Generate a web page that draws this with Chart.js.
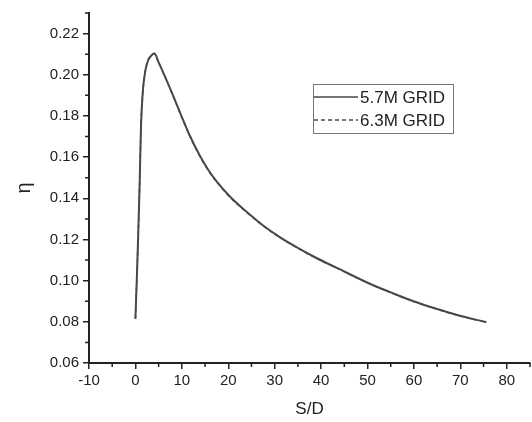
<!DOCTYPE html>
<html>
<head>
<meta charset="utf-8">
<script src="https://cdn.jsdelivr.net/npm/chart.js@4"></script>
<style>
  html, body { margin: 0; padding: 0; background: #fff; }
  #wrap { width: 532px; height: 422px; }
</style>
</head>
<body>
<div id="wrap"><canvas id="etaChart" width="532" height="422"></canvas></div>
<script>
// S/D positions
const sdValues = [0, 0.3, 0.6, 0.9, 1.2, 1.6, 2.1, 2.7, 3.4, 4.1, 5.0, 6.3, 8.1, 9.9, 11.7, 13.8, 15.5, 17.4, 20.3, 24, 27.5, 31, 34.7, 39, 43.3, 50.5, 55, 59.9, 65, 69.3, 75.6];
// eta for the two grids (curves overlap almost everywhere)
const eta57 = [0.0815, 0.101, 0.122, 0.146, 0.175, 0.192, 0.2015, 0.2068, 0.2093, 0.2103, 0.2060, 0.1995, 0.1900, 0.1800, 0.1705, 0.1610, 0.1545, 0.1485, 0.1410, 0.1333, 0.1268, 0.1213, 0.1163, 0.1110, 0.1063, 0.0985, 0.0943, 0.0900, 0.0862, 0.0833, 0.0798];
const eta63 = [0.0815, 0.101, 0.122, 0.146, 0.175, 0.192, 0.2015, 0.2068, 0.2093, 0.2103, 0.2060, 0.1994, 0.1898, 0.1798, 0.1703, 0.1607, 0.1542, 0.1482, 0.1407, 0.1331, 0.1266, 0.1211, 0.1161, 0.1108, 0.1062, 0.0984, 0.0942, 0.0899, 0.0861, 0.0832, 0.0797];
const seriesNames = ["5.7M GRID", "6.3M GRID"];
const xTicks = [-10, 0, 10, 20, 30, 40, 50, 60, 70, 80];
const yTicks = [0.06, 0.08, 0.10, 0.12, 0.14, 0.16, 0.18, 0.20, 0.22];

const ink = "#222";
const lineColor = "#484848";

// minor ticks halfway between the major ones
const minorTicks = {
  id: "minorTicks",
  afterDraw(chart) {
    const ctx = chart.ctx;
    const xs = chart.scales.x, ys = chart.scales.y;
    ctx.save();
    ctx.strokeStyle = ink;
    ctx.lineWidth = 1.5;
    ctx.beginPath();
    for (let v = -5; v <= 85; v += 10) {
      const px = xs.getPixelForValue(v);
      ctx.moveTo(px, ys.bottom);
      ctx.lineTo(px, ys.bottom + 4);
    }
    for (let v = 0.07; v <= 0.2301; v += 0.02) {
      const py = ys.getPixelForValue(v);
      ctx.moveTo(xs.left, py);
      ctx.lineTo(xs.left - 4, py);
    }
    ctx.stroke();
    ctx.restore();
  }
};

// boxed legend like the original
const boxLegend = {
  id: "boxLegend",
  afterDraw(chart) {
    const ctx = chart.ctx;
    ctx.save();
    ctx.strokeStyle = "#777";
    ctx.lineWidth = 1;
    ctx.strokeRect(313.5, 84.5, 140, 49);
    ctx.font = "17px 'Liberation Sans', Arial, sans-serif";
    ctx.fillStyle = ink;
    ctx.textBaseline = "middle";
    const rows = [97, 120];
    chart.data.datasets.forEach((ds, i) => {
      ctx.strokeStyle = lineColor;
      ctx.lineWidth = 1.5;
      ctx.setLineDash(ds.borderDash || []);
      ctx.beginPath();
      ctx.moveTo(314, rows[i]);
      ctx.lineTo(358, rows[i]);
      ctx.stroke();
      ctx.setLineDash([]);
      ctx.fillText(ds.label, 360, rows[i] + 1);
    });
    ctx.restore();
  }
};

new Chart(document.getElementById("etaChart").getContext("2d"), {
  type: "line",
  data: {
    datasets: [
      {
        label: seriesNames[0],
        data: sdValues.map((x, i) => ({ x: x, y: eta57[i] })),
        borderColor: lineColor,
        borderWidth: 2,
        pointRadius: 0,
        cubicInterpolationMode: "monotone",
      },
      {
        label: seriesNames[1],
        data: sdValues.map((x, i) => ({ x: x, y: eta63[i] })),
        borderColor: "#666",
        borderWidth: 1.5,
        borderDash: [4, 3],
        pointRadius: 0,
        cubicInterpolationMode: "monotone",
      },
    ],
  },
  options: {
    responsive: false,
    animation: false,
    layout: { padding: { top: 7, right: 2, left: 0, bottom: 0 } },
    plugins: { legend: { display: false }, tooltip: { enabled: false } },
    scales: {
      x: {
        type: "linear",
        min: -10,
        max: 85,
        afterBuildTicks: (s) => { s.ticks = xTicks.map((v) => ({ value: v })); },
        afterFit: (s) => { s.height = 59; },
        border: { color: ink, width: 2 },
        grid: { drawOnChartArea: false, color: ink, lineWidth: 1.5, tickLength: 6 },
        ticks: { color: ink, padding: 3, maxRotation: 0, font: { family: "'Liberation Sans', Arial", size: 15 } },
        title: { display: true, text: "S/D", color: ink, padding: { top: 0, bottom: 2 }, font: { family: "'Liberation Sans', Arial", size: 17 } },
      },
      y: {
        type: "linear",
        min: 0.06,
        max: 0.23,
        afterBuildTicks: (s) => { s.ticks = yTicks.map((v) => ({ value: v })); },
        afterFit: (s) => { s.width = 89; },
        border: { color: ink, width: 2 },
        grid: { drawOnChartArea: false, color: ink, lineWidth: 1.5, tickLength: 6 },
        ticks: { color: ink, padding: 4, callback: (v) => v.toFixed(2), font: { family: "'Liberation Sans', Arial", size: 15 } },
        title: { display: true, text: "η", color: ink, padding: { top: 12, bottom: 0 }, font: { family: "'Liberation Sans', Arial", size: 20 } },
      },
    },
  },
  plugins: [minorTicks, boxLegend],
});
</script>
</body>
</html>
